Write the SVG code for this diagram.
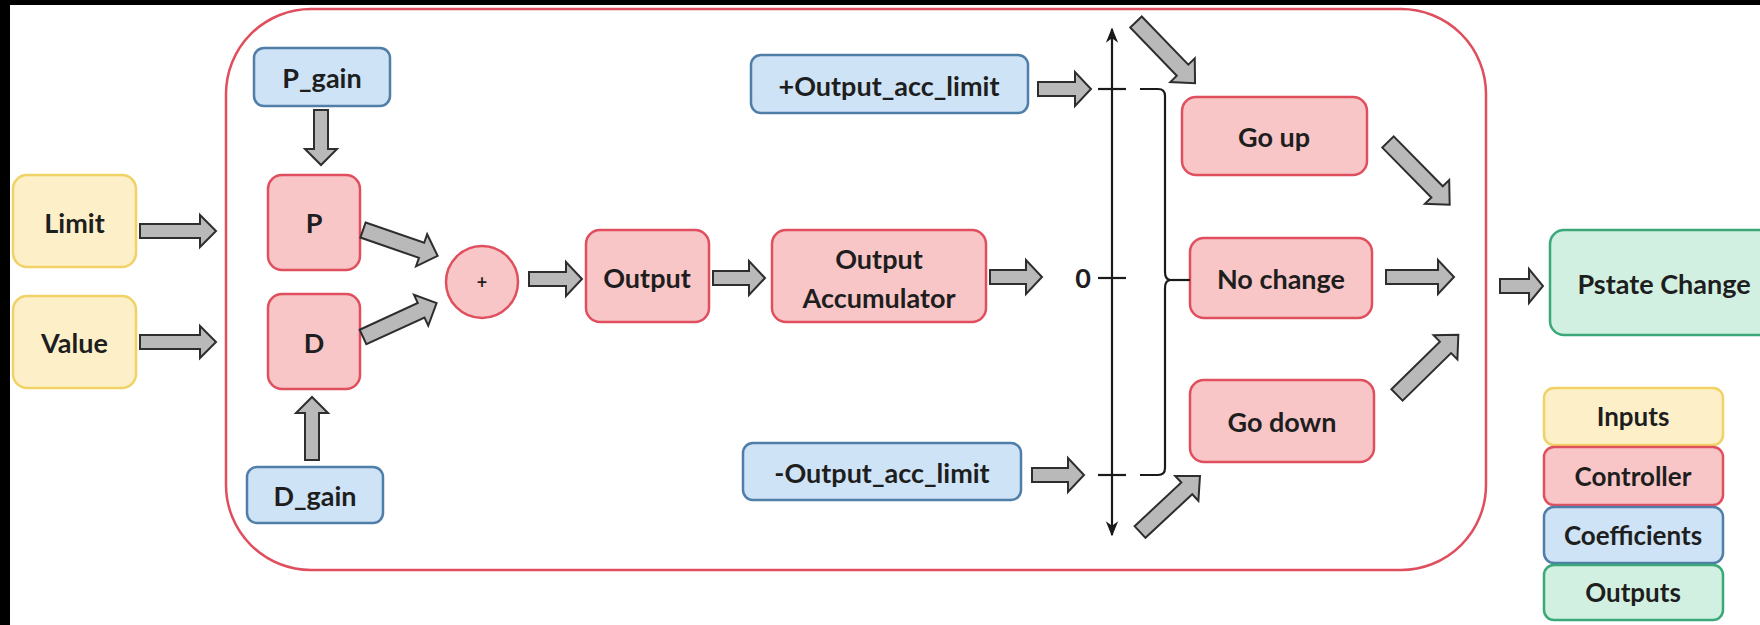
<svg xmlns="http://www.w3.org/2000/svg" width="1760" height="625" viewBox="0 0 1760 625">
<defs>
<style>
text{font-family:Lato,"Liberation Sans",sans-serif;font-weight:700;font-size:27px;fill:#1e1e1e;text-anchor:middle;dominant-baseline:central}
.lg{font-size:26px}
.inp{fill:#fdf0c9;stroke:#f0d266;stroke-width:2.5}
.ctl{fill:#f8c6c7;stroke:#df4f5e;stroke-width:2.5}
.cof{fill:#cfe3f6;stroke:#4f7ea8;stroke-width:2.5}
.out{fill:#d2f0e1;stroke:#3aa878;stroke-width:2.5}
.arr{fill:#b9b9b9;stroke:#2e2e2e;stroke-width:2;stroke-linejoin:miter}
.ax{stroke:#1a1a1a;stroke-width:2.2;fill:none}
</style>
<marker id="ah" viewBox="0 0 10 10" refX="9" refY="5" markerWidth="7" markerHeight="7" markerUnits="strokeWidth" orient="auto-start-reverse">
<path d="M0,1 L10,5 L0,9 L3,5 Z" fill="#1a1a1a"/>
</marker>
</defs>
<rect x="0" y="0" width="1760" height="625" fill="#ffffff"/>
<rect x="0" y="0" width="1760" height="5" fill="#000"/>
<rect x="0" y="0" width="10" height="625" fill="#000"/>

<g id="controller-frame"><rect x="226" y="9" width="1260" height="561" rx="85" fill="none" stroke="#e04e5e" stroke-width="2.5"/></g>

<g id="limit"><rect class="inp" x="13" y="175" width="123" height="92" rx="14"/><text x="74.5" y="222">Limit</text></g>
<g id="value"><rect class="inp" x="13" y="296" width="123" height="92" rx="14"/><text x="74.5" y="342">Value</text></g>
<g id="p_gain"><rect class="cof" x="254" y="48" width="136" height="58" rx="10"/><text x="322" y="77">P_gain</text></g>
<g id="p"><rect class="ctl" x="268" y="175" width="92" height="95" rx="14"/><text x="314" y="222">P</text></g>
<g id="d"><rect class="ctl" x="268" y="294" width="92" height="95" rx="14"/><text x="314" y="342">D</text></g>
<g id="d_gain"><rect class="cof" x="247" y="467" width="136" height="56" rx="10"/><text x="315" y="495">D_gain</text></g>
<g id="sum"><circle class="ctl" cx="482" cy="282" r="36"/><text x="482" y="282" style="font-size:18px">+</text></g>
<g id="output"><rect class="ctl" x="586" y="230" width="123" height="92" rx="14"/><text x="647" y="277">Output</text></g>
<g id="accumulator"><rect class="ctl" x="772" y="230" width="214" height="92" rx="14"/><text x="879" y="258">Output</text><text x="879" y="297">Accumulator</text></g>
<g id="pos_limit"><rect class="cof" x="751" y="55" width="277" height="58" rx="10"/><text x="889" y="85">+Output_acc_limit</text></g>
<g id="neg_limit"><rect class="cof" x="743" y="443" width="278" height="57" rx="10"/><text x="882" y="472">-Output_acc_limit</text></g>
<g id="go_up"><rect class="ctl" x="1182" y="97" width="185" height="78" rx="14"/><text x="1274" y="136">Go up</text></g>
<g id="no_change"><rect class="ctl" x="1190" y="238" width="182" height="80" rx="14"/><text x="1281" y="278">No change</text></g>
<g id="go_down"><rect class="ctl" x="1190" y="380" width="184" height="82" rx="14"/><text x="1282" y="421">Go down</text></g>
<g id="pstate"><rect class="out" x="1550" y="230" width="230" height="105" rx="14"/><text x="1664" y="283">Pstate Change</text></g>

<g id="legend">
<rect class="inp" x="1544" y="388" width="179" height="57" rx="10"/><text class="lg" x="1633" y="416">Inputs</text>
<rect class="ctl" x="1544" y="447" width="179" height="58" rx="10"/><text class="lg" x="1633" y="476">Controller</text>
<rect class="cof" x="1544" y="507" width="179" height="56" rx="10"/><text class="lg" x="1633" y="535">Coefficients</text>
<rect class="out" x="1544" y="565" width="179" height="55" rx="10"/><text class="lg" x="1633" y="592">Outputs</text>
</g>

<g id="axis">
<line class="ax" x1="1112" y1="535" x2="1112" y2="29" marker-end="url(#ah)" marker-start="url(#ah)"/>
<line class="ax" x1="1098" y1="89" x2="1126" y2="89"/>
<line class="ax" x1="1098" y1="278" x2="1126" y2="278"/>
<line class="ax" x1="1098" y1="475" x2="1126" y2="475"/>
<text x="1083" y="277">0</text>
<path class="ax" d="M1140,89 H1158 Q1165,89 1165,96 V272 Q1165,280 1171,280 Q1165,280 1165,288 V468 Q1165,475 1158,475 H1140"/>
<line class="ax" x1="1171" y1="280" x2="1190" y2="280"/>
</g>

<g id="connectors">
<path class="arr" transform="translate(140,231)" d="M0,-7 H60 V-16 L76,0 L60,16 V7 H0 Z"/>
<path class="arr" transform="translate(140,342)" d="M0,-7 H60 V-16 L76,0 L60,16 V7 H0 Z"/>
<path class="arr" transform="translate(321,110) rotate(90)" d="M0,-7 H39 V-16 L55,0 L39,16 V7 H0 Z"/>
<path class="arr" transform="translate(312,460) rotate(-90)" d="M0,-7 H47 V-16 L63,0 L47,16 V7 H0 Z"/>
<path class="arr" transform="translate(363,230) rotate(19.1)" d="M0,-8 H62 V-17 L79,0 L62,17 V8 H0 Z"/>
<path class="arr" transform="translate(363,337) rotate(-24.7)" d="M0,-8 H64 V-17 L81,0 L64,17 V8 H0 Z"/>
<path class="arr" transform="translate(529,279)" d="M0,-7 H37 V-17 L53,0 L37,17 V7 H0 Z"/>
<path class="arr" transform="translate(713,278)" d="M0,-7 H36 V-17 L52,0 L36,17 V7 H0 Z"/>
<path class="arr" transform="translate(990,277)" d="M0,-7 H36 V-17 L52,0 L36,17 V7 H0 Z"/>
<path class="arr" transform="translate(1038,89)" d="M0,-7 H37 V-17 L53,0 L37,17 V7 H0 Z"/>
<path class="arr" transform="translate(1032,475)" d="M0,-7 H36 V-17 L52,0 L36,17 V7 H0 Z"/>
<path class="arr" transform="translate(1136,22) rotate(46)" d="M0,-8 H67 V-17 L85,0 L67,17 V8 H0 Z"/>
<path class="arr" transform="translate(1140,532) rotate(-43)" d="M0,-8 H64 V-17 L82,0 L64,17 V8 H0 Z"/>
<path class="arr" transform="translate(1388,142) rotate(45.5)" d="M0,-8 H70 V-17 L88,0 L70,17 V8 H0 Z"/>
<path class="arr" transform="translate(1386,277)" d="M0,-7 H52 V-17 L68,0 L52,17 V7 H0 Z"/>
<path class="arr" transform="translate(1397,395) rotate(-44.5)" d="M0,-8 H68 V-17 L86,0 L68,17 V8 H0 Z"/>
<path class="arr" transform="translate(1500,286)" d="M0,-7 H29 V-17 L43,0 L29,17 V7 H0 Z"/>
</g>
</svg>
